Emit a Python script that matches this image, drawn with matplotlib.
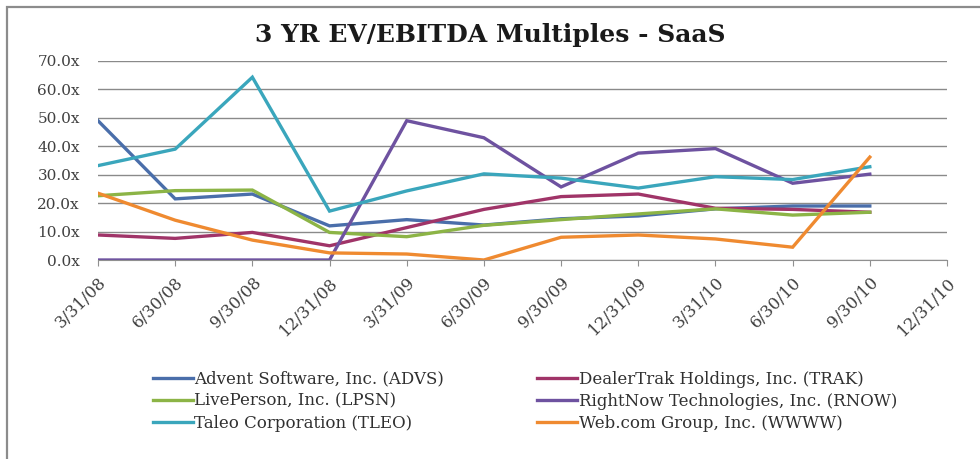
import matplotlib
matplotlib.use("Agg")
import matplotlib.pyplot as plt
from matplotlib.patches import Rectangle

# quarter end dates on the x axis
dates = ["3/31/08", "6/30/08", "9/30/08", "12/31/08", "3/31/09", "6/30/09",
         "9/30/09", "12/31/09", "3/31/10", "6/30/10", "9/30/10", "12/31/10"]

# EV/EBITDA multiples (3/31/08 .. 9/30/10)
advs = [49.0, 21.5, 23.2, 12.0, 14.2, 12.3, 14.5, 15.5, 18.0, 19.0, 19.0]
trak = [8.8, 7.6, 9.7, 5.0, 11.4, 17.8, 22.3, 23.2, 18.2, 17.8, 16.8]
lpsn = [22.6, 24.4, 24.6, 9.7, 8.2, 12.2, 14.2, 16.2, 18.0, 15.8, 16.8]
rnow = [0.0, 0.0, 0.0, 0.0, 49.0, 43.0, 25.7, 37.6, 39.2, 27.0, 30.2]
tleo = [33.2, 39.0, 64.3, 17.2, 24.3, 30.3, 28.8, 25.3, 29.3, 28.3, 32.8]
wwww = [23.5, 14.0, 7.0, 2.5, 2.1, 0.0, 8.0, 8.8, 7.4, 4.5, 36.2]

names = ["Advent Software, Inc. (ADVS)", "DealerTrak Holdings, Inc. (TRAK)",
         "LivePerson, Inc. (LPSN)", "RightNow Technologies, Inc. (RNOW)",
         "Taleo Corporation (TLEO)", "Web.com Group, Inc. (WWWW)"]
series = [advs, trak, lpsn, rnow, tleo, wwww]
colors = ["#4a6eaa", "#a03468", "#8cb446", "#6e52a0", "#3aa6bc", "#ef8a30"]

serif = ["DejaVu Serif"]

fig = plt.figure(figsize=(9.8, 4.59), dpi=100)
fig.patch.set_facecolor("white")

# outer chart frame (only left and top edges show in the picture)
fig.patches.append(Rectangle((7 / 980, -0.2), 1.2, 1 - 7 / 459 + 0.2,
                             transform=fig.transFigure, fill=False,
                             edgecolor="#8c8c8c", linewidth=1.6))

ax = fig.add_axes([98 / 980, 1 - 260 / 459, 849 / 980, 199 / 459])

lines = []
for vals, nm, c in zip(series, names, colors):
    ln, = ax.plot(range(len(vals)), vals, color=c, linewidth=2.4, label=nm,
                  solid_joinstyle="miter")
    lines.append(ln)

ax.set_xlim(0, len(dates) - 1)
ax.set_ylim(0, 70)
ax.set_yticks(range(0, 71, 10))
ax.set_yticklabels(["%.1fx" % v for v in range(0, 71, 10)],
                   family=serif, fontsize=11, color="#404040")
ax.set_xticks(range(len(dates)))
ax.set_xticklabels(dates, rotation=45, ha="right", rotation_mode="anchor",
                   family=serif, fontsize=12, color="#404040")
ax.tick_params(axis="y", length=0, pad=13)
ax.tick_params(axis="x", length=4, color="#909090", direction="out", pad=6)
ax.grid(axis="y", color="#8a8a8a", linewidth=1.0)
ax.set_axisbelow(True)
for s in ["top", "right", "left"]:
    ax.spines[s].set_visible(False)
ax.spines["bottom"].set_color("#909090")

fig.text(0.5, 1 - 35 / 459, "3 YR EV/EBITDA Multiples - SaaS", ha="center",
         va="center", family=serif, fontweight="bold", fontsize=18,
         color="#1a1a1a")

# legend is filled row by row in the picture, matplotlib fills columns
order = [0, 2, 4, 1, 3, 5]
fig.legend(handles=[lines[i] for i in order], loc="center",
           bbox_to_anchor=(525 / 980, 1 - 401 / 459),
           ncol=2, frameon=False, prop={"family": serif, "size": 12},
           handlelength=2.4, handletextpad=0.1, columnspacing=5.6,
           labelspacing=0.3, labelcolor="#303030")

fig.savefig("out.png", dpi=100)
